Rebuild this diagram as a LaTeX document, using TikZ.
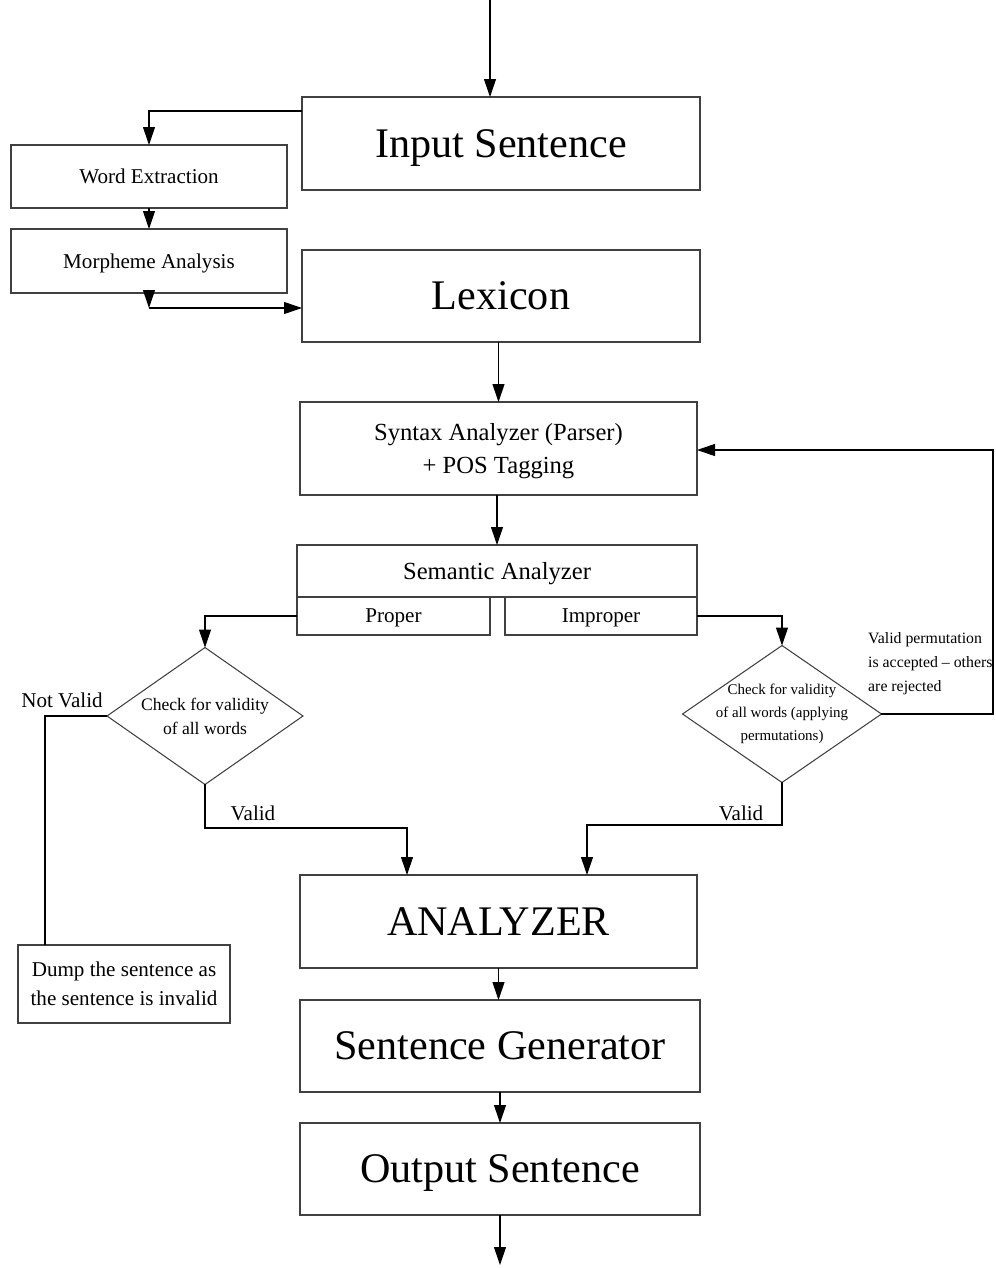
\documentclass[tikz,border=0pt]{standalone}
\usepackage{fontspec}
\setmainfont{Liberation Serif}
\usetikzlibrary{arrows.meta,shapes.geometric}

\begin{document}
\begin{tikzpicture}[x=0.02cm,y=-0.02cm]

% Each box is given as:
% \procbox{name}{x}{y}{width}{height}{font style}{text}
\newcommand{\procbox}[7]{%
  \node[proc box, #6, minimum width=#4*0.02cm, minimum height=#5*0.02cm]
    (#1) at (#2+#4/2,#3+#5/2) {#7};
}

\tikzset{
  proc box/.style={
    draw=black!75,
    line width=0.8pt,
    rectangle,
    inner sep=2pt,
    outer sep=0pt,
    text depth=0pt,
    align=center
  },
  check diamond/.style={
    draw=black!75,
    line width=0.6pt,
    diamond,
    inner sep=0pt,
    outer sep=0pt
  },
  flow line/.style={line width=0.6pt, -{Triangle[length=3.6mm,width=2.4mm]}},
  plain line/.style={line width=0.6pt},
  big text/.style={font=\fontsize{24}{28}\selectfont},
  mid text/.style={font=\fontsize{14}{18.7}\selectfont},
  small text/.style={font=\fontsize{12}{16.4}\selectfont},
  check text/.style={font=\fontsize{10}{13.6}\selectfont, align=center},
  perm text/.style={font=\fontsize{8.5}{13}\selectfont, align=center},
  note text/.style={font=\fontsize{9}{13.6}\selectfont, align=left}
}

\useasboundingbox (0,0) rectangle (996,1268);

% Boxes.
\procbox{in}{302}{97}{398}{93}{big text}{Input Sentence}
\procbox{word}{11}{145}{276}{63}{small text}{Word Extraction}
\procbox{morph}{11}{229}{276}{64}{small text}{Morpheme Analysis}
\procbox{lex}{302}{250}{398}{92}{big text}{Lexicon}
\procbox{syn}{300}{402}{397}{93}{mid text}{Syntax Analyzer (Parser)\\+ POS Tagging}
\procbox{sem}{297}{545}{400}{52}{mid text}{Semantic Analyzer}
\procbox{prop}{297}{597}{193}{38}{small text}{Proper}
\procbox{improp}{505}{597}{192}{38}{small text}{Improper}
\procbox{ana}{300}{875}{397}{93}{big text}{ANALYZER}
\procbox{gen}{300}{1000}{400}{92}{big text}{Sentence Generator}
\procbox{out}{300}{1123}{400}{92}{big text}{Output Sentence}
\procbox{dump}{18}{945}{212}{78}{small text}{Dump the sentence as\\the sentence is invalid}

% Validity checks.
\node[check diamond, minimum width=3.92cm, minimum height=2.74cm,
  label={[check text]center:{Check for validity\\of all words}}] (chk1) at (205,716) {};
\node[check diamond, minimum width=3.98cm, minimum height=2.74cm,
  label={[perm text]center:{Check for validity\\of all words (applying\\permutations)}}] (chk2) at (782,714) {};

% Free ends and bends.
\coordinate (ctop) at (490,0);
\coordinate (wtap) at (302,111);
\coordinate (mcorner) at (149,308);
\coordinate (nv) at (45,716);
\coordinate (vl) at (407,828);
\coordinate (vr) at (587,825);
\coordinate (fb) at (993,450);
\coordinate (cend) at (495,1265);

% Main flow.
\draw[flow line] (ctop) -- (ctop |- in.north);
\draw[flow line] (wtap) -| (word.north);
\draw[flow line] (word.south) -- (morph.north);
\draw[flow line] (morph.south) -- (morph.south |- mcorner);
\draw[flow line] (morph.south |- mcorner) -- (mcorner -| lex.west);
\draw[flow line] (syn.north |- lex.south) -- (syn.north);
\draw[flow line] (sem.north |- syn.south) -- (sem.north);
\draw[flow line] (prop.west) -| (chk1.north);
\draw[flow line] (improp.east) -| (chk2.north);

% Outcomes of the checks.
\draw[plain line] (chk1.west) -- (nv) -- (nv |- dump.north);
\draw[flow line] (chk1.south) |- (vl) -- (vl |- ana.north);
\draw[flow line] (chk2.south) |- (vr) -- (vr |- ana.north);
\draw[flow line] (chk2.east) -| (fb) -- (fb -| syn.east);

\node[small text] (nvlabel) at (62,700) {Not Valid};
\node[small text] (vllabel) at (253,813) {Valid};
\node[small text] (vrlabel) at (741,813) {Valid};
\node[note text, anchor=west] (permnote) at (862,664)
  {Valid permutation\\is accepted -- others\\are rejected};

% Generation.
\draw[flow line] (ana.south) -- (ana.south |- gen.north);
\draw[flow line] (gen.south) -- (gen.south |- out.north);
\draw[flow line] (out.south) -- (out.south |- cend);

\end{tikzpicture}
\end{document}
